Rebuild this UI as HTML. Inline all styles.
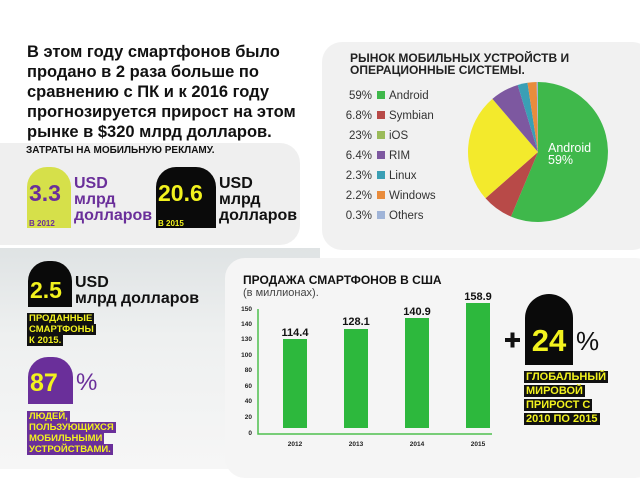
<!DOCTYPE html>
<html><head><meta charset="utf-8"><style>
body{margin:0;width:640px;height:469px;overflow:hidden;background:#fff;font-family:"Liberation Sans","Noto Sans CJK SC",sans-serif;position:relative}
.a{position:absolute}
.b{font-weight:bold}
.tomb{position:absolute;border-radius:20px 20px 0 0}
.lab{position:absolute;font-weight:bold;font-size:9.5px;line-height:11px}
.lab span{padding:0 2px}
</style></head><body>
<div class="a" style="left:0;top:248px;width:320px;height:221px;background:linear-gradient(180deg,#dfe3e4 0%,#eef0f0 40%,#f6f6f6 100%)"></div>
<div class="a" style="left:-20px;top:143px;width:320px;height:102px;background:#efefef;border-radius:20px"></div>
<div class="a" style="left:225px;top:258px;width:430px;height:220px;background:#f5f5f5;border-radius:20px"></div>
<div class="a" style="left:322px;top:42px;width:330px;height:208px;background:#f1f1f1;border-radius:20px"></div>

<div class="a b" style="left:27px;top:42px;font-size:16.5px;line-height:20px;color:#111">В этом году смартфонов было<br>продано в 2 раза больше по<br>сравнению с ПК и к 2016 году<br>прогнозируется прирост на этом<br>рынке в $320 млрд долларов.</div>
<div class="a b" style="left:26px;top:145px;font-size:10px;color:#111">ЗАТРАТЫ НА МОБИЛЬНУЮ РЕКЛАМУ.</div>

<div class="tomb" style="left:27px;top:167px;width:44px;height:52px;background:#d6e04a"></div>
<div class="a b" style="left:29px;top:180px;font-size:23px;color:#6a2f9a">3.3</div>
<div class="a b" style="left:27px;top:219px;width:44px;height:9px;background:#d6e04a;font-size:8px;line-height:9px;color:#6a2f9a;padding-left:2px;box-sizing:border-box">В 2012</div>
<div class="a b" style="left:74px;top:176px;font-size:16px;line-height:16px;color:#6a2f9a">USD<br>млрд<br>долларов</div>

<div class="tomb" style="left:156px;top:167px;width:60px;height:52px;background:#0a0a0a"></div>
<div class="a b" style="left:158px;top:180px;font-size:23px;color:#f2f21e">20.6</div>
<div class="a b" style="left:156px;top:219px;width:60px;height:9px;background:#0a0a0a;font-size:8px;line-height:9px;color:#f2f21e;padding-left:2px;box-sizing:border-box">В 2015</div>
<div class="a b" style="left:219px;top:176px;font-size:16px;line-height:16px;color:#111">USD<br>млрд<br>долларов</div>

<div class="tomb" style="left:28px;top:261px;width:44px;height:46px;background:#0a0a0a"></div>
<div class="a b" style="left:30px;top:277px;font-size:23px;color:#f2f21e">2.5</div>
<div class="a b" style="left:75px;top:275px;font-size:16px;line-height:16px;color:#111">USD<br>млрд долларов</div>
<div class="lab" style="left:27px;top:313px;color:#f2f21e"><span style="background:#111">ПРОДАННЫЕ</span><br><span style="background:#111">СМАРТФОНЫ</span><br><span style="background:#111">К 2015.</span></div>

<div class="tomb" style="left:28px;top:357px;width:45px;height:47px;background:#6a2f9a"></div>
<div class="a b" style="left:30px;top:369px;font-size:25px;color:#f2f21e">87</div>
<div class="a" style="left:76px;top:369px;font-size:24px;color:#6a2f9a">%</div>
<div class="lab" style="left:27px;top:411px;color:#f2f21e"><span style="background:#6a2f9a">ЛЮДЕЙ,</span><br><span style="background:#6a2f9a">ПОЛЬЗУЮЩИХСЯ</span><br><span style="background:#6a2f9a">МОБИЛЬНЫМИ</span><br><span style="background:#6a2f9a">УСТРОЙСТВАМИ.</span></div>

<div class="a b" style="left:243px;top:273px;font-size:12px;color:#111">ПРОДАЖА СМАРТФОНОВ В США</div>
<div class="a" style="left:243px;top:287px;font-size:11px;color:#444">(в миллионах).</div>
<svg class="a" style="left:0;top:0" width="640" height="469">
<g font-family="Liberation Sans" font-weight="bold" font-size="6.5" fill="#222" text-anchor="end">
<text x="252" y="311">150</text><text x="252" y="326">140</text><text x="252" y="341">130</text><text x="252" y="357">100</text><text x="252" y="372">80</text><text x="252" y="388">60</text><text x="252" y="403">40</text><text x="252" y="419">20</text><text x="252" y="435">0</text>
</g>
<path d="M258 309V434H492" stroke="#4ec04e" stroke-width="1.5" fill="none"/>
<g fill="#2db83d"><rect x="283" y="339" width="24" height="89"/><rect x="344" y="329" width="24" height="99"/><rect x="405" y="318" width="24" height="110"/><rect x="466" y="303" width="24" height="125"/></g>
<g font-family="Liberation Sans" font-weight="bold" font-size="11" fill="#111" text-anchor="middle">
<text x="295" y="336">114.4</text><text x="356" y="325">128.1</text><text x="417" y="315">140.9</text><text x="478" y="300">158.9</text></g>
<g font-family="Liberation Sans" font-weight="bold" font-size="6.5" fill="#222" text-anchor="middle">
<text x="295" y="446">2012</text><text x="356" y="446">2013</text><text x="417" y="446">2014</text><text x="478" y="446">2015</text></g>
<path d="M525 365V318a24 24 0 0 1 48 0V365Z" fill="#0a0a0a"/>
<text x="549" y="351" font-family="Liberation Sans" font-weight="bold" font-size="31" fill="#f2f21e" text-anchor="middle">24</text>
<path d="M505 340H520M512.5 332.5V347.5" stroke="#111" stroke-width="4"/>
<text x="576" y="350" font-family="Liberation Sans" font-size="26" fill="#111">%</text>
<g transform="translate(538,152)">
<path d="M0 0L0 -70A70 70 0 1 1 -27.0 64.6Z" fill="#3fb84b"/>
<path d="M0 0L-27.0 64.6A70 70 0 0 1 -52.5 46.3Z" fill="#b84a48"/>
<path d="M0 0L-52.5 46.3A70 70 0 0 1 -45.6 -53.1Z" fill="#f3ea2c"/>
<path d="M0 0L-45.6 -53.1A70 70 0 0 1 -20.3 -67.0Z" fill="#7d58a0"/>
<path d="M0 0L-20.3 -67.0A70 70 0 0 1 -10.5 -69.2Z" fill="#3a9fb5"/>
<path d="M0 0L-10.5 -69.2A70 70 0 0 1 -1.3 -70Z" fill="#e98c3c"/>
<path d="M0 0L-1.3 -70A70 70 0 0 1 0 -70Z" fill="#9fb4d8"/>
</g>
<text x="548" y="152" font-family="Liberation Sans" font-size="12.5" fill="#fff">Android</text>
<text x="548" y="164" font-family="Liberation Sans" font-size="12.5" fill="#fff">59%</text>
<g font-family="Liberation Sans" font-size="11.5" fill="#333">
<text x="372" y="99" text-anchor="end">59%</text><rect x="377" y="91" width="8" height="8" fill="#3fb84b"/><text x="389" y="99">Android</text>
<text x="372" y="119" text-anchor="end">6.8%</text><rect x="377" y="111" width="8" height="8" fill="#b84a48"/><text x="389" y="119">Symbian</text>
<text x="372" y="139" text-anchor="end">23%</text><rect x="377" y="131" width="8" height="8" fill="#9bbb59"/><text x="389" y="139">iOS</text>
<text x="372" y="159" text-anchor="end">6.4%</text><rect x="377" y="151" width="8" height="8" fill="#7d58a0"/><text x="389" y="159">RIM</text>
<text x="372" y="179" text-anchor="end">2.3%</text><rect x="377" y="171" width="8" height="8" fill="#3a9fb5"/><text x="389" y="179">Linux</text>
<text x="372" y="199" text-anchor="end">2.2%</text><rect x="377" y="191" width="8" height="8" fill="#e98c3c"/><text x="389" y="199">Windows</text>
<text x="372" y="219" text-anchor="end">0.3%</text><rect x="377" y="211" width="8" height="8" fill="#9fb4d8"/><text x="389" y="219">Others</text>
</g>
</svg>
<div class="a b" style="left:350px;top:52px;font-size:12px;line-height:12px;color:#222">РЫНОК МОБИЛЬНЫХ УСТРОЙСТВ И<br>ОПЕРАЦИОННЫЕ СИСТЕМЫ.</div>
<div class="lab" style="left:524px;top:370px;font-size:11px;line-height:14px;color:#f2f21e"><span style="background:#111">ГЛОБАЛЬНЫЙ</span><br><span style="background:#111">МИРОВОЙ</span><br><span style="background:#111">ПРИРОСТ С</span><br><span style="background:#111">2010 ПО 2015</span></div>
</body></html>
